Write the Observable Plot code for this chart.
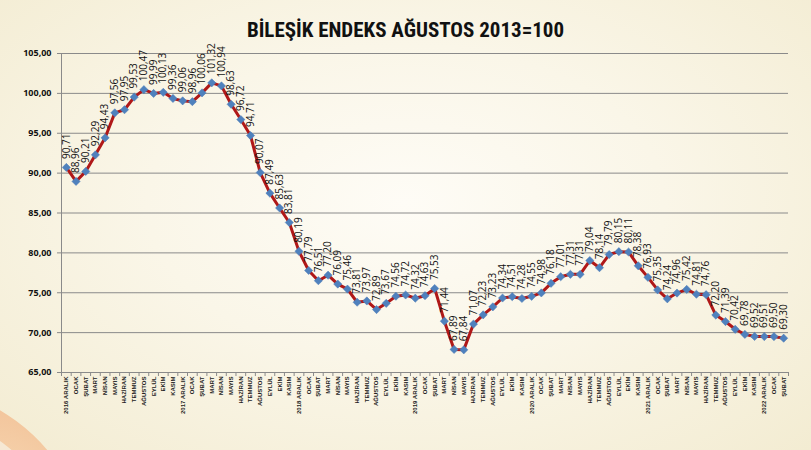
<!DOCTYPE html>
<html>
<head>
<meta charset="utf-8">
<script src="https://cdn.jsdelivr.net/npm/d3@7"></script>
<script src="https://cdn.jsdelivr.net/npm/@observablehq/plot@0.6"></script>
<style>
  html, body { margin: 0; padding: 0; }
  #wrap {
    position: relative; width: 811px; height: 450px; overflow: hidden;
    background: radial-gradient(ellipse at 50% 45%, #fefcf6 0%, #faf6e8 45%, #f3ecd2 100%);
  }
  #swoosh1 {
    position: absolute; left: -150px; top: 400px; width: 230px; height: 130px;
    border-radius: 50%; transform: rotate(30deg);
    background: radial-gradient(ellipse at 70% 30%, #f6caa0 0%, #f0b283 60%, #e99a68 100%);
    opacity: 0.8;
  }
  #swoosh2 {
    position: absolute; left: -165px; top: 422px; width: 230px; height: 140px;
    border-radius: 50%; transform: rotate(30deg);
    background: #f6e9d6; opacity: 0.95;
  }
  #title {
    height: 40px; line-height: 60px; text-align: center;
    font-family: "Liberation Sans Narrow", "Roboto Condensed", "DejaVu Sans Condensed", "Open Sans", sans-serif;
    font-weight: bold; font-size: 21px; color: #111; position: relative;
  }
  #chart { position: relative; }
  #chart svg { overflow: visible; }
</style>
</head>
<body>
<div id="wrap">
  <div id="swoosh1"></div>
  <div id="swoosh2"></div>
  <div id="title">BİLEŞİK ENDEKS AĞUSTOS 2013=100</div>
  <div id="chart"></div>
</div>
<script>
const labels = [
  "2016 ARALIK","OCAK","ŞUBAT","MART","NİSAN","MAYIS","HAZİRAN","TEMMUZ","AĞUSTOS","EYLÜL","EKİM","KASIM",
  "2017 ARALIK","OCAK","ŞUBAT","MART","NİSAN","MAYIS","HAZİRAN","TEMMUZ","AĞUSTOS","EYLÜL","EKİM","KASIM",
  "2018 ARALIK","OCAK","ŞUBAT","MART","NİSAN","MAYIS","HAZİRAN","TEMMUZ","AĞUSTOS","EYLÜL","EKİM","KASIM",
  "2019 ARALIK","OCAK","ŞUBAT","MART","NİSAN","MAYIS","HAZİRAN","TEMMUZ","AĞUSTOS","EYLÜL","EKİM","KASIM",
  "2020 ARALIK","OCAK","ŞUBAT","MART","NİSAN","MAYIS","HAZİRAN","TEMMUZ","AĞUSTOS","EYLÜL","EKİM","KASIM",
  "2021 ARALIK","OCAK","ŞUBAT","MART","NİSAN","MAYIS","HAZİRAN","TEMMUZ","AĞUSTOS","EYLÜL","EKİM","KASIM",
  "2022 ARALIK","OCAK","ŞUBAT"
];
const values = [
  90.71, 88.96, 90.21, 92.29, 94.43, 97.56, 97.95, 99.53, 100.47, 99.99, 100.13, 99.36,
  99.06, 98.96, 100.06, 101.32, 100.94, 98.63, 96.72, 94.71, 90.07, 87.49, 85.63, 83.81,
  80.19, 77.79, 76.51, 77.20, 76.09, 75.46, 73.81, 73.97, 72.89, 73.67, 74.56, 74.72,
  74.32, 74.63, 75.53, 71.44, 67.89, 67.84, 71.07, 72.23, 73.23, 74.34, 74.51, 74.28,
  74.55, 74.98, 76.18, 77.01, 77.31, 77.31, 79.04, 78.14, 79.79, 80.15, 80.11, 78.38,
  76.93, 75.35, 74.24, 74.96, 75.42, 74.81, 74.76, 72.20, 71.39, 70.42, 69.78, 69.52,
  69.51, 69.50, 69.30
];
const yTicks = [65, 70, 75, 80, 85, 90, 95, 100, 105];

const data = values.map((v, i) => ({i, v, label: labels[i]}));
const fmt = v => v.toFixed(2).replace(".", ",");
const idx = d3.range(labels.length);
const bounds = d3.range(-0.5, labels.length, 1);

const chart = Plot.plot({
  width: 811,
  height: 410,
  marginTop: 13,
  marginLeft: 61,
  marginRight: 23,
  marginBottom: 78,
  style: {background: "transparent", fontFamily: "'Open Sans', sans-serif", color: "#111"},
  x: {type: "linear", domain: [-0.5, labels.length - 0.5], axis: null},
  y: {domain: [65, 105], axis: null},
  marks: [
    Plot.gridY(yTicks.slice(1), {stroke: "#8a8a8a", strokeOpacity: 1, strokeWidth: 1}),
    Plot.ruleY([65], {stroke: "#8a8a8a", strokeWidth: 1}),
    Plot.ruleX([-0.5], {stroke: "#8a8a8a", strokeWidth: 1}),
    Plot.axisY(yTicks, {tickFormat: fmt, tickSize: 4, tickPadding: 6, stroke: "#8a8a8a", fill: "#111", fontSize: 9, fontWeight: "bold", label: null}),
    Plot.axisX(bounds, {tickSize: 4, tickFormat: () => "", stroke: "#8a8a8a", label: null}),
    Plot.axisX(idx, {tickSize: 0, tickPadding: 4, tickRotate: -90, tickFormat: i => labels[i], fill: "#222", fontSize: 6, fontWeight: "bold", fontFamily: "'Liberation Sans', Arial, sans-serif", label: null}),
    Plot.line(data, {x: "i", y: "v", stroke: "#b01818", strokeWidth: 3}),
    Plot.dot(data, {x: "i", y: "v", symbol: "diamond2", r: 3.7, fill: "#4f81bd", stroke: "#4a7bb7", strokeWidth: 0.5}),
    Plot.text(data, {x: "i", y: "v", text: d => fmt(d.v), rotate: -90, textAnchor: "start", dy: -8.5, fontSize: 10, fill: "#111"})
  ]
});
document.getElementById("chart").appendChild(chart);
</script>
</body>
</html>
